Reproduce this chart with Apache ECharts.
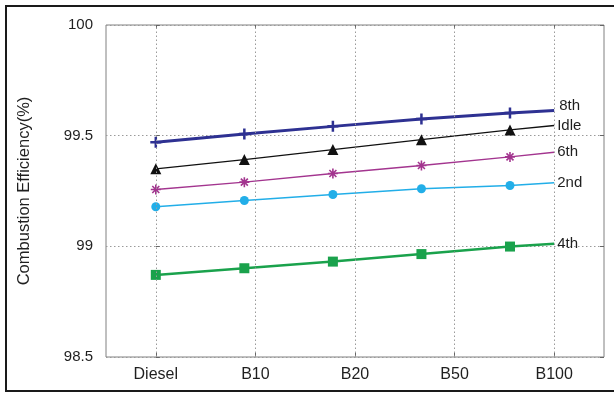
<!DOCTYPE html>
<html>
<head>
<meta charset="utf-8">
<script src="https://cdn.jsdelivr.net/npm/echarts@6/dist/echarts.min.js"></script>
<style>
  html, body { margin: 0; padding: 0; background: #fff; }
  #chart { width: 614px; height: 394px; }
</style>
</head>
<body>
<div id="chart"></div>
<script>
// Fuel blends on the horizontal axis
const categories = ['Diesel', 'B10', 'B20', 'B50', 'B100'];
// Horizontal positions of the sampled points (in blend-index units)
const samplePositions = [0, 0.889, 1.778, 2.667, 3.556, 4];
// Combustion efficiency (%) for each engine mode
const eighth = [99.470, 99.508, 99.542, 99.575, 99.602, 99.614];
const idle   = [99.350, 99.392, 99.437, 99.482, 99.526, 99.546];
const sixth  = [99.257, 99.290, 99.329, 99.365, 99.404, 99.425];
const second = [99.179, 99.207, 99.234, 99.260, 99.275, 99.287];
const fourth = [98.871, 98.901, 98.931, 98.965, 98.999, 99.012];
// Y-axis range and step
const yMin = 98.5, yMax = 100, yStep = 0.5;

const FONT = 'Liberation Sans, Arial, sans-serif';
const TEXT = '#1f1f1f';
const GRID_LINE = { color: '#9a9a9a', width: 1, type: [1.5, 2.5] };

function points(values) {
  // the last point only carries the line to B100; no marker there
  return values.map((v, i) => {
    const d = { value: [samplePositions[i], v] };
    if (i === values.length - 1) d.symbol = 'none';
    return d;
  });
}

function modeSeries(name, values, color, width, symbol, size, extra) {
  return Object.assign({
    name: name,
    type: 'line',
    xAxisIndex: 2,
    data: points(values),
    symbol: symbol,
    symbolSize: size,
    showAllSymbol: true,
    lineStyle: { color: color, width: width },
    itemStyle: { color: color, borderColor: color, borderWidth: 0, opacity: 1 },
    animation: false,
    z: 3,
    endLabel: {
      show: true,
      formatter: name,
      color: TEXT,
      fontFamily: FONT,
      fontSize: 15,
      distance: 3
    }
  }, extra || {});
}

const chart = echarts.init(document.getElementById('chart'), null, { renderer: 'canvas' });

chart.setOption({
  backgroundColor: '#ffffff',
  animation: false,
  grid: {
    left: 106, right: 10, top: 25, bottom: 37,
    show: true, borderColor: '#808080', borderWidth: 1,
    backgroundColor: 'transparent'
  },
  graphic: [{
    type: 'rect',
    shape: { x: 6, y: 6, width: 700, height: 385 },
    style: { fill: 'none', stroke: '#1a1a1a', lineWidth: 2 },
    silent: true,
    z: 0
  }],
  xAxis: [
    {
      type: 'category', data: categories, boundaryGap: true, position: 'bottom',
      axisLine: { show: false },
      axisTick: { show: true, inside: true, alignWithLabel: true, length: 4, lineStyle: { color: '#666' } },
      axisLabel: { color: TEXT, fontFamily: FONT, fontSize: 16, margin: 10 },
      splitLine: { show: false }
    },
    {
      type: 'category', data: categories, boundaryGap: true, position: 'top',
      axisLine: { show: false },
      axisTick: { show: true, inside: true, alignWithLabel: true, length: 4, lineStyle: { color: '#666' } },
      axisLabel: { show: false },
      splitLine: { show: false }
    },
    {
      type: 'value', min: -0.5, max: 4.5, show: false,
      splitLine: { show: false }
    }
  ],
  yAxis: [
    {
      type: 'value', min: yMin, max: yMax, interval: yStep, position: 'left',
      name: 'Combustion Efficiency(%)', nameLocation: 'middle', nameGap: 73,
      nameTextStyle: { color: TEXT, fontFamily: FONT, fontSize: 16.5 },
      axisLine: { show: false },
      axisTick: { show: true, inside: true, length: 4, lineStyle: { color: '#666' } },
      axisLabel: { color: TEXT, fontFamily: FONT, fontSize: 15, margin: 13 },
      splitLine: { show: true, lineStyle: GRID_LINE }
    },
    {
      type: 'value', min: yMin, max: yMax, interval: yStep, position: 'right',
      axisLine: { show: false },
      axisTick: { show: true, inside: true, length: 4, lineStyle: { color: '#666' } },
      axisLabel: { show: false },
      splitLine: { show: false }
    }
  ],
  series: [
    {
      name: 'grid', type: 'line', xAxisIndex: 2, data: [],
      silent: true, animation: false,
      markLine: {
        silent: true, symbol: 'none', animation: false,
        label: { show: false },
        lineStyle: GRID_LINE,
        data: categories.map((c, i) => ({ xAxis: i }))
      }
    },
    modeSeries('4th', fourth, '#1aa24c', 2.5, 'rect', 10),
    modeSeries('2nd', second, '#22aee8', 1.5, 'circle', 9),
    modeSeries('6th', sixth, '#a3358f', 1.4,
      'path://M5,0V10M0,5H10M1.5,1.5L8.5,8.5M1.5,8.5L8.5,1.5', 10,
      { itemStyle: { color: 'none', borderColor: '#a3358f', borderWidth: 1.6, opacity: 1 } }),
    modeSeries('Idle', idle, '#111111', 1.3, 'triangle', 11),
    modeSeries('8th', eighth, '#2e3192', 3,
      'path://M0,5H10M5,0V10', 11,
      {
        itemStyle: { color: 'none', borderColor: '#2e3192', borderWidth: 2.5, opacity: 1 },
        endLabel: { show: true, formatter: '8th', color: TEXT, fontFamily: FONT, fontSize: 15, distance: 5, offset: [0, -5] }
      })
  ]
});
</script>
</body>
</html>
